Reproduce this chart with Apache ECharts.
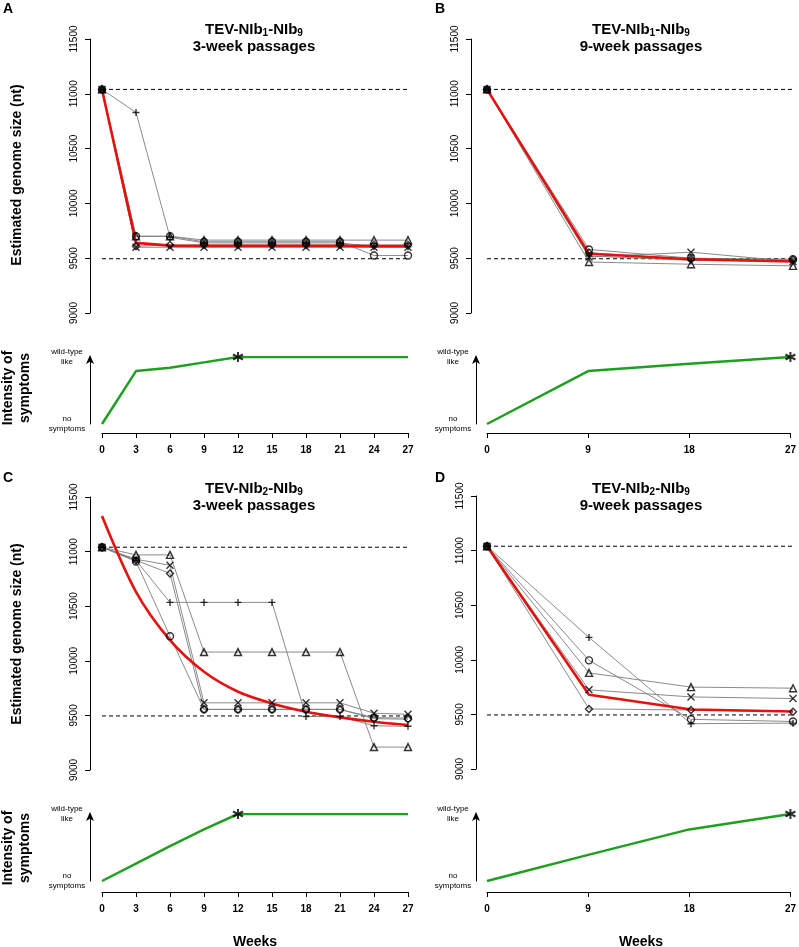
<!DOCTYPE html>
<html><head><meta charset="utf-8">
<script src="https://cdn.jsdelivr.net/npm/echarts@6/dist/echarts.min.js"></script>
<style>html,body{margin:0;padding:0;background:#fff}#c{width:799px;height:947px}</style>
</head><body><div id="c"></div><script>
// ---------- data ----------
const weeks3 = [0,3,6,9,12,15,18,21,24,27];
const weeks9 = [0,9,18,27];
const refLines = [11040, 9495];
const yTicks = [9000, 9500, 10000, 10500, 11000, 11500];

// Panel A: TEV-NIb1-NIb9, 3-week passages
const A_circle   = [11040, 9700, 9700, 9650, 9650, 9650, 9650, 9650, 9525, 9525];
const A_triangle = [11040, 9700, 9700, 9665, 9665, 9665, 9665, 9665, 9665, 9665];
const A_plus     = [11040, 10830, 9690, 9640, 9640, 9640, 9640, 9640, 9605, 9605];
const A_cross    = [11040, 9600, 9600, 9600, 9600, 9600, 9600, 9600, 9600, 9600];
const A_diamond  = [11040, 9610, 9620, 9620, 9620, 9620, 9620, 9620, 9620, 9620];
const A_fit      = [11040, 9640, 9615, 9612, 9612, 9612, 9612, 9612, 9610, 9610];
const A_symptoms = [0, 0.79, 0.84, 0.92, 1, 1, 1, 1, 1, 1];
const A_star = [12, 1];

// Panel B: TEV-NIb1-NIb9, 9-week passages
const B_circle   = [11040, 9580, 9500, 9490];
const B_triangle = [11040, 9465, 9445, 9430];
const B_plus     = [11040, 9520, 9480, 9470];
const B_cross    = [11040, 9510, 9555, 9470];
const B_diamond  = [11040, 9550, 9490, 9485];
const B_fit      = [11040, 9540, 9490, 9470];
const B_symptoms = [0, 0.79, 0.90, 1];
const B_star = [27, 1];

// Panel C: TEV-NIb2-NIb9, 3-week passages
const C_circle   = [11040, 10910, 10225, 9555, 9555, 9555, 9555, 9555, 9480, 9475];
const C_triangle = [11040, 10970, 10970, 10080, 10080, 10080, 10080, 10080, 9210, 9210];
const C_plus     = [11040, 10920, 10535, 10535, 10535, 10535, 9490, 9490, 9405, 9400];
const C_cross    = [11040, 10930, 10875, 9615, 9615, 9615, 9615, 9615, 9520, 9510];
const C_diamond  = [11040, 10920, 10800, 9555, 9555, 9555, 9555, 9555, 9470, 9465];
const C_fit      = [11326, 10631, 10189, 9899, 9717, 9610, 9534, 9482, 9442, 9412];
const C_symptoms = [0, 0.26, 0.52, 0.77, 1, 1, 1, 1, 1, 1];
const C_star = [12, 1];

// Panel D: TEV-NIb2-NIb9, 9-week passages
const D_circle   = [11040, 9995, 9455, 9435];
const D_triangle = [11040, 9880, 9750, 9740];
const D_plus     = [11040, 10205, 9415, 9420];
const D_cross    = [11040, 9725, 9660, 9645];
const D_diamond  = [11040, 9550, 9540, 9525];
const D_fit      = [11040, 9680, 9545, 9527];
const D_symptoms = [0, 0.39, 0.77, 1];
const D_star = [27, 1];

// ---------- style ----------
const FONT = 'Liberation Sans, Arial, Helvetica, sans-serif';
const SYM = {
  circle: 'circle',
  triangle: 'triangle',
  diamond: 'diamond',
  plus: 'path://M5,0L5,10M0,5L10,5',
  cross: 'path://M0,0L10,10M10,0L0,10'
};
const STAR = 'path://M5,0L5,10M0.7,2.5L9.3,7.5M0.7,7.5L9.3,2.5';

const panels = [
  {x: weeks3, lin: {circle:A_circle, triangle:A_triangle, plus:A_plus, cross:A_cross, diamond:A_diamond}, fit:A_fit, sym:A_symptoms, star:A_star, step:3,
   top:{left:102, top:39, height:274, off:12}, low:{left:102, top:357, off:9, yoff:12}},
  {x: weeks9, lin: {circle:B_circle, triangle:B_triangle, plus:B_plus, cross:B_cross, diamond:B_diamond}, fit:B_fit, sym:B_symptoms, star:B_star, step:9,
   top:{left:487, top:39, height:274, off:16}, low:{left:487, top:357, off:9, yoff:11}},
  {x: weeks3, lin: {circle:C_circle, triangle:C_triangle, plus:C_plus, cross:C_cross, diamond:C_diamond}, fit:C_fit, sym:C_symptoms, star:C_star, step:3,
   top:{left:102, top:497, height:273, off:12}, low:{left:102, top:814, off:11, yoff:12}},
  {x: weeks9, lin: {circle:D_circle, triangle:D_triangle, plus:D_plus, cross:D_cross, diamond:D_diamond}, fit:D_fit, sym:D_symptoms, star:D_star, step:9,
   top:{left:487, top:496, height:273, off:11}, low:{left:487, top:814, off:11, yoff:11}}
];

const grid = [], xAxis = [], yAxis = [], series = [];
const pairs = (xs, ys) => xs.map((x, i) => [x, ys[i]]);

panels.forEach((p) => {
  // top (genome size) grid
  const gi = grid.length;
  grid.push({left: p.top.left, top: p.top.top, width: 306, height: p.top.height});
  xAxis.push({type:'value', gridIndex:gi, min:0, max:27, show:false});
  yAxis.push({type:'value', gridIndex:gi, min:yTicks[0], max:yTicks[yTicks.length-1], interval:500, offset:p.top.off,
    splitLine:{show:false},
    axisLine:{show:true, onZero:false, lineStyle:{color:'#000', width:1}},
    axisTick:{show:true, length:5, lineStyle:{color:'#000'}},
    axisLabel:{show:true, rotate:90, margin:11, fontSize:10, color:'#000', fontFamily:FONT, formatter: v => String(v)}});
  refLines.forEach(v => series.push({type:'line', xAxisIndex:gi, yAxisIndex:gi, data:[[0,v],[27,v]],
    symbol:'none', silent:true, z:1, lineStyle:{color:'#000', width:1, type:[4,3]}}));
  Object.keys(p.lin).forEach(k => {
    series.push({type:'line', xAxisIndex:gi, yAxisIndex:gi, data:pairs(p.x, p.lin[k]), symbol:'none', z:2,
      lineStyle:{color:'#7d7d7d', width:0.9}});
  });
  series.push({type:'line', xAxisIndex:gi, yAxisIndex:gi, data:pairs(p.x, p.fit), symbol:'none', z:3,
    smooth: p === panels[2] ? 0.3 : false,
    lineStyle:{color:'#e3120f', width:2.6}});
  Object.keys(p.lin).forEach(k => {
    series.push({type:'scatter', xAxisIndex:gi, yAxisIndex:gi, data:pairs(p.x, p.lin[k]), symbol:SYM[k], symbolSize:7, z:4,
      itemStyle:{color:'rgba(0,0,0,0)', borderColor:'#000', borderWidth:1.4}});
  });

  // lower (symptoms) grid
  const li = grid.length;
  grid.push({left: p.low.left, top: p.low.top, width: 306, height: 67});
  xAxis.push({type:'value', gridIndex:li, min:0, max:27, interval:p.step, offset:p.low.off,
    splitLine:{show:false},
    axisLine:{show:true, onZero:false, lineStyle:{color:'#000', width:1}},
    axisTick:{show:true, length:5, lineStyle:{color:'#000'}},
    axisLabel:{show:true, margin:12, fontSize:10, fontWeight:'bold', color:'#000', fontFamily:FONT}});
  yAxis.push({type:'value', gridIndex:li, min:0, max:1, interval:1, offset:p.low.yoff,
    splitLine:{show:false},
    axisLine:{show:true, onZero:false, symbol:['none','arrow'], symbolSize:[6,9], symbolOffset:[0,2], lineStyle:{color:'#000', width:1}},
    axisTick:{show:false},
    axisLabel:{show:true, margin:23, align:'center', fontSize:8, lineHeight:10, color:'#000', fontFamily:FONT,
      formatter: v => v === 1 ? 'wild-type\nlike' : (v === 0 ? 'no\nsymptoms' : '')}});
  series.push({type:'line', xAxisIndex:li, yAxisIndex:li, data:pairs(p.x, p.sym), symbol:'none', z:2,
    lineStyle:{color:'#1f9f1f', width:2.5}});
  series.push({type:'scatter', xAxisIndex:li, yAxisIndex:li, data:[p.star], symbol:STAR, symbolSize:10, z:4,
    itemStyle:{color:'rgba(0,0,0,0)', borderColor:'#000', borderWidth:2}});
});

const titleRich = {
  b: {fontSize:15, fontWeight:'bold', fontFamily:FONT, fill:'#000'},
  s: {fontSize:10, fontWeight:'bold', fontFamily:FONT, fill:'#000', padding:[7,0,0,0]}
};
function title(x, y, n, label) {
  return [
    {type:'text', x:x, y:y, style:{text:'{b|TEV-NIb}{s|' + n + '}{b|-NIb}{s|9}', rich:titleRich, textAlign:'center', textVerticalAlign:'middle'}},
    {type:'text', x:x, y:y + 17, style:{text:label, font:'bold 15px ' + FONT, fill:'#000', textAlign:'center', textVerticalAlign:'middle'}}
  ];
}
function letter(x, y, t) {
  return {type:'text', x:x, y:y, style:{text:t, font:'bold 14px ' + FONT, fill:'#000', textAlign:'left', textVerticalAlign:'top'}};
}
function vtext(x, y, t) {
  return {type:'text', x:x, y:y, rotation:Math.PI/2, style:{text:t, font:'bold 14px ' + FONT, fill:'#000', lineHeight:17, textAlign:'center', textVerticalAlign:'middle'}};
}

const graphic = [].concat(
  title(254, 30, '1', '3-week passages'),
  title(641, 30, '1', '9-week passages'),
  title(254, 489, '2', '3-week passages'),
  title(641, 489, '2', '9-week passages'),
  [letter(3, 2, 'A'), letter(435, 2, 'B'), letter(3, 471, 'C'), letter(435, 471, 'D'),
   vtext(17, 175, 'Estimated genome size (nt)'),
   vtext(17, 634, 'Estimated genome size (nt)'),
   vtext(17, 388, 'Intensity of\nsymptoms'),
   vtext(17, 848, 'Intensity of\nsymptoms'),
   {type:'text', x:255, y:942, style:{text:'Weeks', font:'bold 14px ' + FONT, fill:'#000', textAlign:'center', textVerticalAlign:'middle'}},
   {type:'text', x:641, y:942, style:{text:'Weeks', font:'bold 14px ' + FONT, fill:'#000', textAlign:'center', textVerticalAlign:'middle'}}]
);

const chart = echarts.init(document.getElementById('c'), null, {renderer:'canvas'});
chart.setOption({animation:false, backgroundColor:'#fff', grid, xAxis, yAxis, series, graphic});
</script></body></html>
